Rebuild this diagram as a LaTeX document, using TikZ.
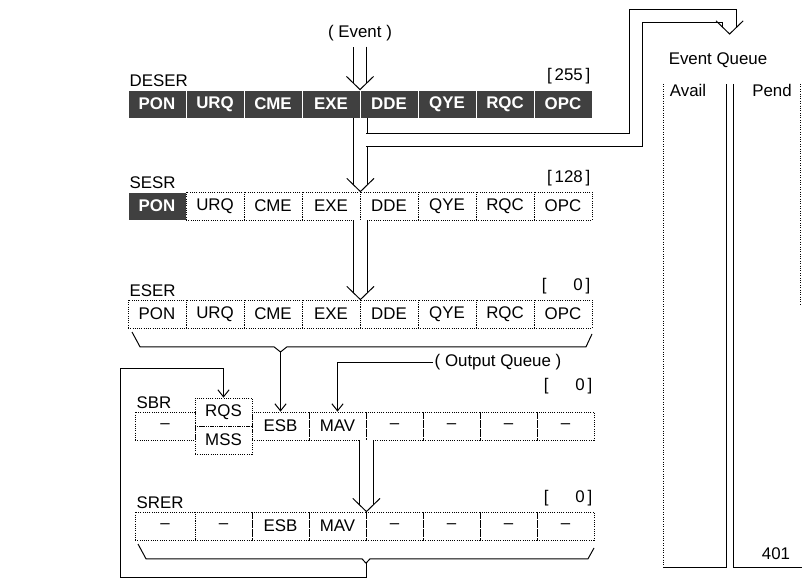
\documentclass[tikz,border=0pt]{standalone}
\usepackage{fontspec}
\setmainfont{Liberation Sans}
\usetikzlibrary{arrows.meta,calc}
\definecolor{darkfill}{HTML}{404040}

\begin{document}
\begin{tikzpicture}[
    cell/.style={
      draw, densely dotted, line width=0.6pt,
      minimum width=1.45cm, minimum height=0.7cm, inner sep=0pt,
      font=\fontsize{12}{14}\selectfont
    },
    darkcell/.style={cell, solid, draw=white, fill=darkfill, text=white,
      font=\fontsize{12}{14}\selectfont\bfseries},
    regcell/.style={cell, minimum width=1.425cm},
    lbl/.style={font=\fontsize{12}{14}\selectfont, inner sep=1pt},
    conn/.style={line width=0.7pt},
    arr/.style={conn, -{Straight Barb[length=5pt,width=8pt]}},
    dbl/.style={double, double distance=9pt, line width=0.7pt, shorten >=0.165cm},
    vhead/.pic={\draw[line width=0.7pt] (-0.34,0.33) -- (0,0) -- (0.34,0.33);},
  ]
  \useasboundingbox (0,0) rectangle (20.1,14.6);

  % =================== DESER ===================
  \node[lbl] (ev) at (9.0,13.78) {( Event )};
  \node[lbl, anchor=south west] (deser) at (3.2,12.38) {DESER};
  \node[lbl, anchor=south east] (vdes) at (14.8,12.45) {[\,255\,]};
  \node[darkcell] (d1) at (3.925,12) {PON};
  \node[darkcell] (d2) at (5.375,12) {URQ};
  \node[darkcell] (d3) at (6.825,12) {CME};
  \node[darkcell] (d4) at (8.275,12) {EXE};
  \node[darkcell] (d5) at (9.725,12) {DDE};
  \node[darkcell] (d6) at (11.175,12) {QYE};
  \node[darkcell] (d7) at (12.625,12) {RQC};
  \node[darkcell] (d8) at (14.075,12) {OPC};

  \draw[dbl] ([yshift=-3pt]ev.south) -- (ev.south |- d4.north east);
  \pic at (ev.south |- d4.north east) {vhead};

  % =================== SESR ===================
  \node[lbl, anchor=south west] (sesr) at (3.2,9.83) {SESR};
  \node[lbl, anchor=south east] (vses) at (14.8,9.9) {[\,128\,]};
  \node[darkcell] (s1) at (3.925,9.45) {PON};
  \node[cell] (s2) at (5.375,9.45) {URQ};
  \node[cell] (s3) at (6.825,9.45) {CME};
  \node[cell] (s4) at (8.275,9.45) {EXE};
  \node[cell] (s5) at (9.725,9.45) {DDE};
  \node[cell] (s6) at (11.175,9.45) {QYE};
  \node[cell] (s7) at (12.625,9.45) {RQC};
  \node[cell] (s8) at (14.075,9.45) {OPC};

  \draw[dbl] (d4.south east) -- (s4.north east);
  \pic at (s4.north east) {vhead};

  % branch to the event queue
  \coordinate (brk) at (9.16,11.1);
  \coordinate (eqtip) at (18.24,13.75);
  \draw[dbl] (brk) -| (15.9,14.2) -| (eqtip);
  \pic at (eqtip) {vhead};

  % =================== ESER ===================
  \node[lbl, anchor=south west] (eser) at (3.2,7.13) {ESER};
  \node[lbl, anchor=south east] (vese) at (14.8,7.2) {[\hspace{1.6em}0\,]};
  \node[cell] (e1) at (3.925,6.75) {PON};
  \node[cell] (e2) at (5.375,6.75) {URQ};
  \node[cell] (e3) at (6.825,6.75) {CME};
  \node[cell] (e4) at (8.275,6.75) {EXE};
  \node[cell] (e5) at (9.725,6.75) {DDE};
  \node[cell] (e6) at (11.175,6.75) {QYE};
  \node[cell] (e7) at (12.625,6.75) {RQC};
  \node[cell] (e8) at (14.075,6.75) {OPC};

  \draw[dbl] (s4.south east) -- (e4.north east);
  \pic at (e4.north east) {vhead};

  % bracket under ESER
  \coordinate (enotch) at (7.0125,5.8);
  \draw[conn] (3.3,6.3) -- (3.5,5.93) -- (6.85,5.93) -- (enotch)
    -- (7.175,5.93) -- (14.65,5.93) -- (14.8,6.25);

  % =================== SBR ===================
  \node[lbl] (oq) at (12.45,5.55) {( Output Queue )};
  \node[lbl, anchor=south west] (sbr) at (3.375,4.35) {SBR};
  \node[lbl, anchor=south east] (vsbr) at (14.85,4.72) {[\hspace{1.6em}0\,]};
  \node[cell, minimum width=1.5cm] (b1) at (4.125,3.95) {\textendash};
  \node[regcell] (rqs) at (5.5875,4.3) {RQS};
  \node[regcell] (mss) at (5.5875,3.6) {MSS};
  \node[regcell] (b3) at (7.0125,3.95) {ESB};
  \node[regcell] (b4) at (8.4375,3.95) {MAV};
  \node[regcell] (b5) at (9.8625,3.95) {\textendash};
  \node[regcell] (b6) at (11.2875,3.95) {\textendash};
  \node[regcell] (b7) at (12.7125,3.95) {\textendash};
  \node[regcell] (b8) at (14.1375,3.95) {\textendash};

  \draw[arr] (enotch) -- (b3.north);
  \draw[arr] (oq.west) -| (b4.north);

  % =================== SRER ===================
  \node[lbl, anchor=south west] (srer) at (3.375,1.83) {SRER};
  \node[lbl, anchor=south east] (vsre) at (14.85,1.9) {[\hspace{1.6em}0\,]};
  \node[cell, minimum width=1.5cm] (r1) at (4.125,1.45) {\textendash};
  \node[regcell] (r2) at (5.5875,1.45) {\textendash};
  \node[regcell] (r3) at (7.0125,1.45) {ESB};
  \node[regcell] (r4) at (8.4375,1.45) {MAV};
  \node[regcell] (r5) at (9.8625,1.45) {\textendash};
  \node[regcell] (r6) at (11.2875,1.45) {\textendash};
  \node[regcell] (r7) at (12.7125,1.45) {\textendash};
  \node[regcell] (r8) at (14.1375,1.45) {\textendash};

  \draw[dbl] (b4.south east) -- (r4.north east);
  \pic at (r4.north east) {vhead};

  % bracket under SRER, summary back to RQS
  \coordinate (snotch) at (9.15,0.52);
  \draw[conn] (3.45,1.0) -- (3.65,0.63) -- (9.05,0.63) -- (snotch);
  \draw[conn] (14.85,0.9) -- (14.7,0.63) -- (9.25,0.63) -- (snotch);
  \draw[arr] (snotch) -- (9.15,0.175) -| (3.0,5.4) -| (rqs.north);

  % =================== Event Queue ===================
  \node[lbl] (evq) at (17.95,13.1) {Event Queue};
  \node[lbl] (avail) at (17.2,12.35) {Avail};
  \node[lbl] (pend) at (19.3,12.35) {Pend};
  \draw[conn, densely dotted] (16.575,12.5) -- (16.575,0.425);
  \draw[conn] (16.575,0.425) -| (18.15,12.5);
  \draw[conn] (18.325,12.5) |- (20.05,0.425);
  \draw[conn, densely dotted] (20.0,12.5) -- (20.0,7.0);
  \node[lbl] (cnt) at (19.4,0.75) {401};

\end{tikzpicture}
\end{document}
